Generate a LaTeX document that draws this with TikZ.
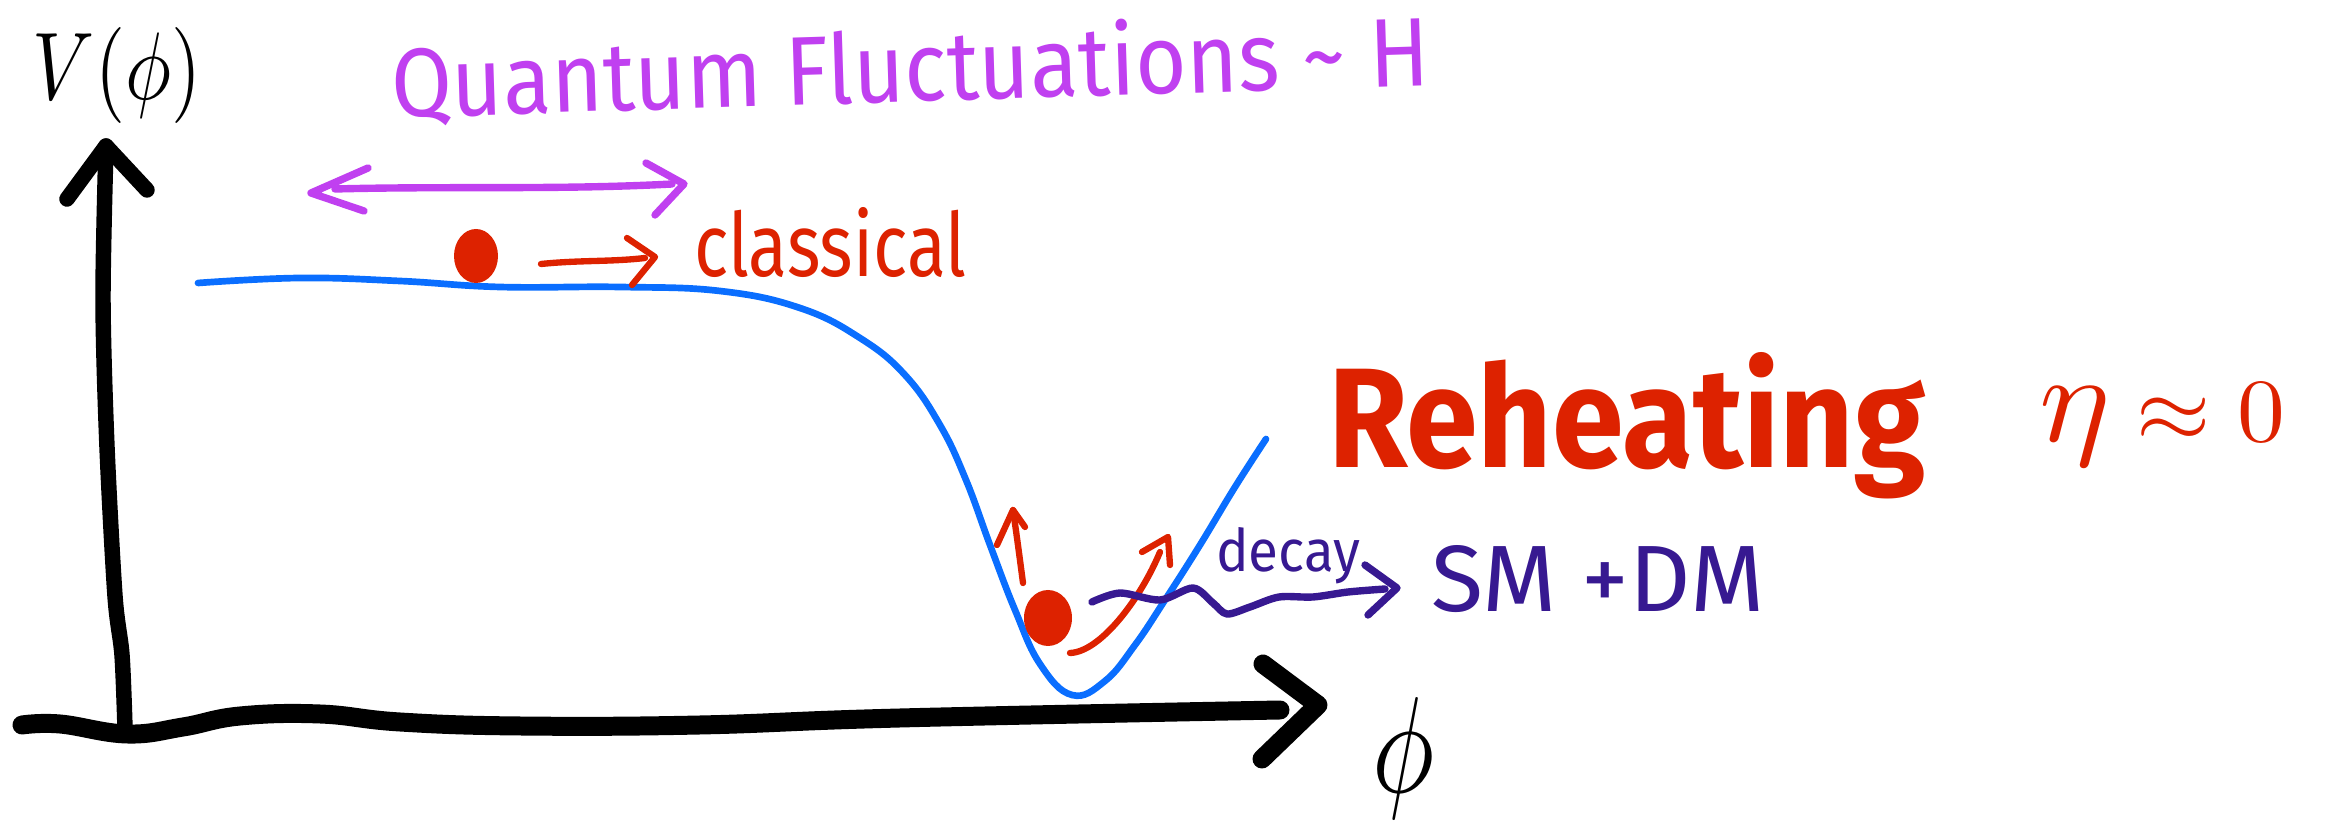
\documentclass[tikz,border=0pt]{standalone}
\usepackage{fontspec}
\setmainfont{Fira Sans}
\usepackage{graphicx}
\definecolor{qpurple}{RGB}{192,64,240}
\definecolor{sred}{RGB}{221,34,0}
\definecolor{sblue}{RGB}{10,110,255}
\definecolor{dpurple}{RGB}{55,25,145}
\tikzset{
  yax/.style={line width=4.4pt, line cap=round, line join=round, black},
  xax/.style={line width=5.4pt, line cap=round, line join=round, black},
  potline/.style={line width=1.9pt, sblue, line cap=round},
  purln/.style={line width=2.1pt, qpurple, line cap=round, line join=round},
  redln/.style={line width=1.8pt, sred, line cap=round, line join=round},
  wavln/.style={line width=2.1pt, dpurple, line cap=round, line join=round},
  lbl/.style={anchor=base west, inner sep=0pt, outer sep=0pt}
}
\begin{document}
\begin{tikzpicture}[x=0.01cm,y=-0.01cm]
\useasboundingbox (0,0) rectangle (2335,825);

% axes
\coordinate (ytop) at (106,146);
\coordinate (ybot) at (125,728);
\draw[yax] plot[smooth] coordinates {(ybot) (122,655) (115,596) (107,447) (103,300) (ytop)};
\draw[yax] (67,199) -- (ytop) -- (147,190);

\coordinate (xstart) at (22,725);
\coordinate (xend) at (1280,710);
\coordinate (xtip) at (1318,705);
\draw[xax] plot[smooth, tension=0.7] coordinates {(xstart) (60,724) (127,734) (183,727) (240,716) (320,714) (400,722) (520,726) (700,725) (900,718) (xend)};
\draw[xax] (1263,664) -- (xtip) -- (1262,759);

% labels on axes
\node[lbl] (vlabel) at (33,100) {\resizebox{1.68cm}{0.72cm}{$V(\phi)$}};
\node[inner sep=0pt] (phi) at (1404,758) {\resizebox{0.62cm}{0.95cm}{$\phi$}};

% potential
\draw[potline] plot[smooth, tension=0.7] coordinates {(198,283) (300,278) (400,281) (500,287) (620,287) (720,291) (800,308) (860,338) (905,375) (940,425) (966,480) (990,545) (1015,610) (1040,664) (1072,695) (1105,681) (1135,645) (1165,600) (1200,545) (1235,487) (1266,439)};

% quantum fluctuations
\node[lbl, text=qpurple, rotate=1.8] (qf) at (392,118) {\resizebox{10.38cm}{0.76cm}{Quantum Fluctuations \textasciitilde{} H}};
\coordinate (qa) at (311,193);
\coordinate (qb) at (684,184);
\draw[purln] (335,189) .. controls (450,186) and (560,190) .. (672,184);
\draw[purln] (368,168) -- (qa) -- (364,211);
\draw[purln] (646,163) -- (qb) -- (655,215);

% classical
\coordinate (dot1) at (476,256);
\fill[sred] (dot1) ellipse [x radius=22, y radius=27];
\coordinate (c1s) at (541,264);
\coordinate (c1e) at (655,257);
\draw[redln] (c1s) .. controls (580,260) and (610,262) .. (645,258);
\draw[redln] (627,238) -- (c1e) -- (632,285);
\node[lbl, text=sred] (cl) at (694,277) {\resizebox{2.72cm}{0.69cm}{classical}};

% reheating
\coordinate (dot2) at (1048,618);
\fill[sred] (dot2) ellipse [x radius=24, y radius=28];
\coordinate (upt) at (1013,510);
\draw[redln] (1023,583) .. controls (1020,560) and (1016,530) .. (upt);
\draw[redln] (997,545) -- (upt) -- (1025,527);
\coordinate (crt) at (1168,537);
\draw[redln] (1070,653) .. controls (1100,652) and (1140,600) .. (1160,552);
\draw[redln] (1142,552) -- (crt) -- (1170,565);

\coordinate (wtip) at (1397,588);
\draw[wavln] plot[smooth] coordinates {(1092,602) (1120,593) (1160,600) (1193,588) (1213,603) (1227,614) (1250,607) (1279,597) (1313,597) (1348,592) (1385,589)};
\draw[wavln] (1365,565) -- (wtip) -- (1368,615);
\node[lbl, text=dpurple] (decay) at (1216,572) {\resizebox{1.44cm}{0.44cm}{decay}};
\node[lbl, text=dpurple] (smdm) at (1431,612) {\resizebox{3.33cm}{0.66cm}{SM +DM}};

\node[lbl, text=sred] (reh) at (1328,468) {\resizebox{5.97cm}{1.15cm}{\bfseries Reheating}};
\node[lbl, text=sred] (eta) at (2039,442) {\resizebox{2.46cm}{0.58cm}{$\scalebox{1.4}{$\eta$}\approx0$}};
\end{tikzpicture}
\end{document}
